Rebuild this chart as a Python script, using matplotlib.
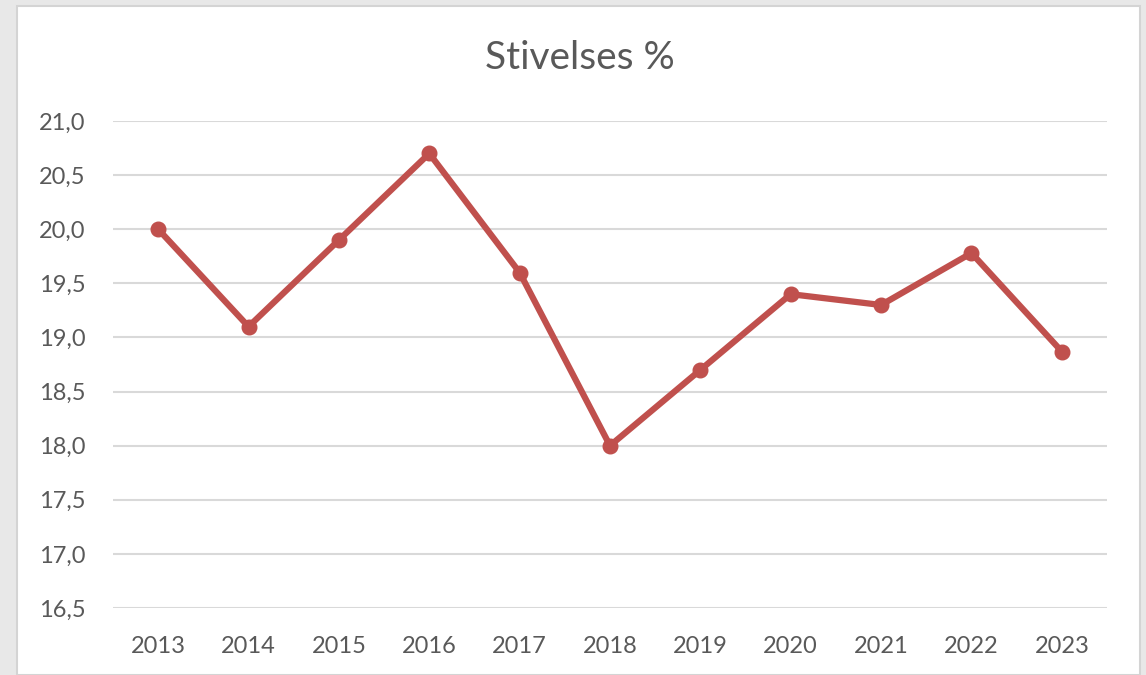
import matplotlib.pyplot as plt
from matplotlib.patches import Rectangle

years = ["2013", "2014", "2015", "2016", "2017", "2018", "2019", "2020", "2021", "2022", "2023"]
stivelse = [20.0, 19.1, 19.9, 20.7, 19.6, 18.0, 18.7, 19.4, 19.3, 19.78, 18.87]
yticks = [16.5, 17.0, 17.5, 18.0, 18.5, 19.0, 19.5, 20.0, 20.5, 21.0]

plt.rcParams['font.family'] = ['Lato', 'DejaVu Sans']

fig = plt.figure(figsize=(11.46, 6.75), dpi=100, facecolor='#e8e8e8')
# white chart area with a thin grey frame, kept behind the axes
fig.patches.append(Rectangle((17 / 1146, 0), (1140 - 17) / 1146, 1 - 6 / 675,
                             transform=fig.transFigure, facecolor='white',
                             edgecolor='#d4d4d4', linewidth=1.5, zorder=-10))

ax = fig.add_axes([113 / 1146, 1 - 608 / 675, (1107 - 113) / 1146, (608 - 121) / 675])
ax.set_facecolor('none')
ax.set_zorder(5)

x = range(len(years))
ax.plot(x, stivelse, color='#c0504d', linewidth=4.5, marker='o', markersize=10.5,
        solid_joinstyle='round', zorder=3)

ax.set_xlim(-0.5, len(years) - 0.5)
ax.set_ylim(16.5, 21.0)
ax.set_yticks(yticks)
ax.set_yticklabels([f"{v:.1f}".replace('.', ',') for v in yticks])
ax.set_xticks(list(x))
ax.set_xticklabels(years)

ax.grid(axis='y', color='#d9d9d9', linewidth=1.5)
ax.set_axisbelow(True)
for s in ax.spines.values():
    s.set_visible(False)
ax.tick_params(length=0, labelsize=17, colors='#595959')
ax.tick_params(axis='y', pad=20)
ax.tick_params(axis='x', pad=20)

fig.text(580 / 1146, 1 - 58 / 675, "Stivelses %", ha='center', va='center',
         fontsize=28, color='#595959', zorder=6)

fig.savefig('out.png', dpi=100, facecolor=fig.get_facecolor())
